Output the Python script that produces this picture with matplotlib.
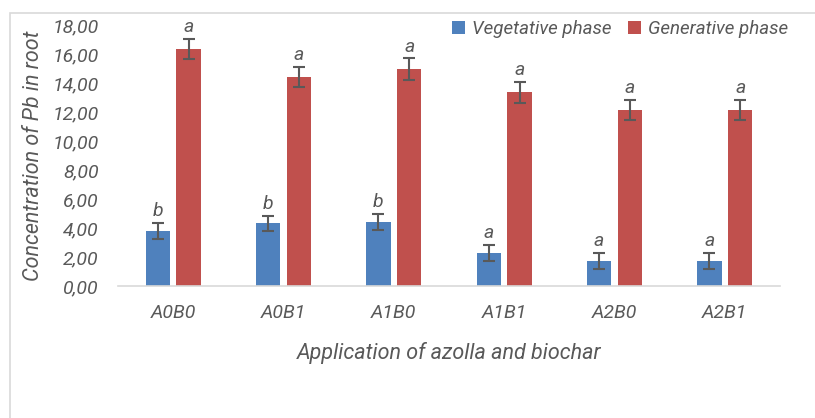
import matplotlib.pyplot as plt
import numpy as np
from matplotlib.patches import Rectangle

# Data
treatments = ['A0B0', 'A0B1', 'A1B0', 'A1B1', 'A2B0', 'A2B1']
vegetative = [3.80, 4.32, 4.39, 2.25, 1.75, 1.75]
vegetative_err = [0.54, 0.54, 0.55, 0.55, 0.55, 0.55]
generative = [16.37, 14.39, 14.94, 13.36, 12.14, 12.14]
generative_err = [0.69, 0.69, 0.75, 0.71, 0.70, 0.70]
veg_letters = ['b', 'b', 'b', 'a', 'a', 'a']
gen_letters = ['a', 'a', 'a', 'a', 'a', 'a']
y_ticks = [0, 2, 4, 6, 8, 10, 12, 14, 16, 18]

blue = '#4F81BD'
red = '#C0504D'
grey = '#595959'
font = ['Roboto', 'DejaVu Sans']

fig = plt.figure(figsize=(8.15, 4.18), dpi=100)
fig.patches.append(Rectangle((10 / 815, -0.1), 1.2, 1.1 - 13 / 418,
                             transform=fig.transFigure, fill=False,
                             edgecolor='#D9D9D9', linewidth=1.2))

ax = fig.add_axes([118 / 815, (418 - 286) / 418, 662 / 815, 261 / 418])

x = np.arange(len(treatments))
width = 0.22
off = 0.14
err_kw = dict(ecolor=grey, elinewidth=1.5, capsize=4, capthick=1.5)
ax.bar(x - off, vegetative, width, color=blue, yerr=vegetative_err,
       error_kw=err_kw, label='Vegetative phase')
ax.bar(x + off, generative, width, color=red, yerr=generative_err,
       error_kw=err_kw, label='Generative phase')

for i in range(len(treatments)):
    ax.text(x[i] - off, vegetative[i] + vegetative_err[i] + 0.2, veg_letters[i],
            ha='center', va='bottom', fontsize=14, style='italic', color=grey, family=font)
    ax.text(x[i] + off, generative[i] + generative_err[i] + 0.2, gen_letters[i],
            ha='center', va='bottom', fontsize=14, style='italic', color=grey, family=font)

ax.set_xlim(-0.5, len(treatments) - 0.5)
ax.set_ylim(0, 18)
ax.set_yticks(y_ticks)
ax.set_yticklabels([f'{v:.2f}'.replace('.', ',') for v in y_ticks])
ax.set_xticks(x)
ax.set_xticklabels(treatments)
for lbl in ax.get_xticklabels() + ax.get_yticklabels():
    lbl.set_fontstyle('italic')
    lbl.set_family(font)
    lbl.set_color(grey)
    lbl.set_fontsize(14)
ax.tick_params(axis='both', length=0)
ax.tick_params(axis='x', pad=13)
ax.tick_params(axis='y', pad=14)

for s in ['top', 'right', 'left']:
    ax.spines[s].set_visible(False)
ax.spines['bottom'].set_color('#D9D9D9')
ax.spines['bottom'].set_linewidth(1.2)

ax.set_xlabel('Application of azolla and biochar', fontsize=15.5, style='italic',
              color=grey, family=font, labelpad=14)
ax.set_ylabel('Concentration of Pb in root', fontsize=15.5, style='italic',
              color=grey, family=font, labelpad=6)

leg = fig.legend(loc='upper left', bbox_to_anchor=(437 / 815, 1 - 5 / 418), ncol=2,
                 frameon=False, handlelength=0.7, handleheight=0.7, handletextpad=0.35,
                 columnspacing=0.9, borderpad=0.3,
                 prop={'family': font, 'style': 'italic', 'size': 13.5})
for t in leg.get_texts():
    t.set_color(grey)

fig.savefig('out.png', dpi=100)
